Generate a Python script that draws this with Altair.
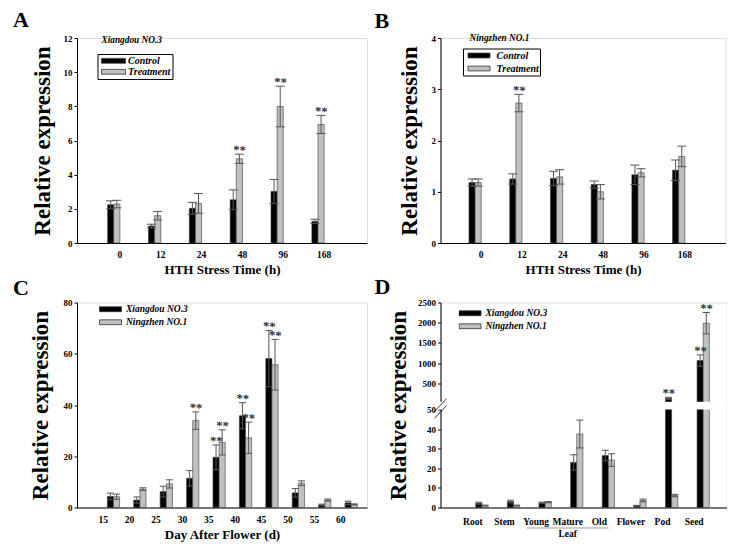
import altair as alt
import pandas as pd

FONT = "Liberation Serif"
SIG_MARK = "**"
panel_letters = ["A", "B", "C", "D"]
y_title = "Relative expression"

# ---------------- Panels A / B : HTH stress ----------------
hth_times = ["0", "12", "24", "48", "96", "168"]
stress_groups = ["Control", "Treatment"]
stress_x_title = "HTH Stress Time (h)"

a_cultivar = "Xiangdou NO.3"
a_control = [2.24, 0.99, 2.03, 2.53, 3.02, 1.27]
a_control_err = [0.23, 0.11, 0.35, 0.58, 0.70, 0.12]
a_control_sig = [0, 0, 0, 0, 0, 0]
a_treat = [2.28, 1.60, 2.32, 4.93, 7.99, 6.94]
a_treat_err = [0.22, 0.25, 0.58, 0.27, 1.19, 0.53]
a_treat_sig = [0, 0, 0, 1, 1, 1]
a_y_ticks = [0, 2, 4, 6, 8, 10, 12]

b_cultivar = "Ningzhen NO.1"
b_control = [1.18, 1.25, 1.26, 1.14, 1.33, 1.42]
b_control_err = [0.07, 0.10, 0.14, 0.07, 0.19, 0.20]
b_control_sig = [0, 0, 0, 0, 0, 0]
b_treat = [1.18, 2.73, 1.29, 1.00, 1.37, 1.69]
b_treat_err = [0.07, 0.17, 0.14, 0.14, 0.08, 0.20]
b_treat_sig = [0, 1, 0, 0, 0, 0]
b_y_ticks = [0, 1, 2, 3, 4]

# ---------------- Panel C : days after flower ----------------
cultivars = ["Xiangdou NO.3", "Ningzhen NO.1"]
days = ["15", "20", "25", "30", "35", "40", "45", "50", "55", "60"]
c_x_title = "Day After Flower (d)"
c_xd = [4.3, 2.9, 6.2, 11.4, 19.6, 35.8, 58.1, 5.7, 1.0, 1.8]
c_xd_err = [1.3, 1.2, 2.1, 3.0, 4.8, 5.1, 11.0, 1.7, 0.3, 0.65]
c_xd_sig = [0, 0, 0, 0, 1, 1, 1, 0, 0, 0]
c_nz = [4.2, 7.2, 9.2, 33.9, 25.4, 27.2, 55.7, 9.5, 2.9, 1.2]
c_nz_err = [1.0, 0.5, 1.6, 3.4, 4.9, 6.1, 9.9, 0.9, 0.4, 0.2]
c_nz_sig = [0, 0, 0, 1, 1, 1, 1, 0, 0, 0]
c_y_ticks = [0, 20, 40, 60, 80]

# ---------------- Panel D : tissues (broken axis) ----------------
tissues = ["Root", "Stem", "Young", "Mature", "Old", "Flower", "Pod", "Seed"]
leaf_first, leaf_middle, leaf_last = "Young", "Mature", "Old"
leaf_label = "Leaf"
d_xd = [2.2, 3.0, 2.4, 23.0, 26.5, 0.9, 132.0, 1065.0]
d_xd_err = [0.5, 0.7, 0.3, 3.9, 2.7, 0.2, 25.0, 140.0]
d_xd_sig = [0, 0, 0, 0, 0, 0, 1, 1]
d_nz = [1.0, 1.0, 2.7, 37.5, 24.2, 3.6, 6.1, 1988.0]
d_nz_err = [0.2, 0.2, 0.3, 7.1, 3.2, 0.7, 0.6, 265.0]
d_nz_sig = [0, 0, 0, 0, 0, 0, 0, 1]
d_y_ticks = [0, 10, 20, 30, 40, 50, 500, 1000, 1500, 2000, 2500]

# broken-axis mapping (display units)
BREAK_AT = 50
GAP_TOP = 54.0
D_TOP = 104.6
D_MAX = 2500
K = (D_TOP - GAP_TOP) / (D_MAX - BREAK_AT)


def disp_py(v):
    return v if v <= BREAK_AT else GAP_TOP + (v - BREAK_AT) * K


def disp_expr(v):
    return f"(({v}) <= {BREAK_AT} ? ({v}) : {GAP_TOP} + (({v}) - {BREAK_AT}) * {K})"


def ident_expr(v):
    return f"({v})"


BAR_COLORS = ["#000000", "#c0c0c0"]


def long_table(cats, names, means, errs, sigs):
    rows = []
    for ci, c in enumerate(cats):
        for si, s in enumerate(names):
            rows.append({"cat": c, "series": s, "mean": means[si][ci],
                         "err": errs[si][ci], "sig": sigs[si][ci]})
    return pd.DataFrame(rows)


def panel(df, cats, names, ydomain, yvalues, xtitle, letter, letter_xy,
          leg, band, cap, ytitle_pad, xlab_pad, xtitle_pad, expr=ident_expr,
          label_expr=None):
    base = alt.Chart(df).transform_calculate(
        ym=expr("datum.mean"),
        ylo=expr("datum.mean - datum.err"),
        yhi=expr("datum.mean + datum.err"),
    )
    xaxis = alt.Axis(title=xtitle, labelAngle=0, ticks=False, domainColor="black",
                     labelFont=FONT, labelFontSize=9.5, labelFontWeight="bold",
                     labelColor="black", labelPadding=xlab_pad,
                     titleFont=FONT, titleFontSize=13, titleFontWeight="bold",
                     titleColor="black", titlePadding=xtitle_pad)
    xscale = alt.Scale(domain=cats, paddingInner=band[0], paddingOuter=band[1])
    x = alt.X("cat:N", sort=cats, scale=xscale, axis=xaxis)
    xo = alt.XOffset("series:N", sort=names, scale=alt.Scale(domain=names))
    ax_kw = dict(title=y_title, values=yvalues, grid=False, domainColor="black",
                 tickColor="black", tickSize=3, labelFont=FONT, labelFontSize=9,
                 labelFontWeight="bold", labelColor="black", labelPadding=2,
                 titleFont=FONT, titleFontSize=23, titleFontWeight="bold",
                 titleColor="black", titlePadding=ytitle_pad)
    if label_expr is not None:
        ax_kw["labelExpr"] = label_expr
    yaxis = alt.Axis(**ax_kw)
    yscale = alt.Scale(domain=ydomain, nice=False, zero=True)

    def Y(field):
        return alt.Y(field, scale=yscale, axis=yaxis)

    bars = base.mark_bar(stroke="#3a3a3a", strokeWidth=0.6).encode(
        x=x, xOffset=xo, y=Y("ym:Q"),
        color=alt.Color("series:N", sort=names,
                        scale=alt.Scale(domain=names, range=BAR_COLORS),
                        legend=alt.Legend(**leg)),
    )
    errs = base.mark_rule(color="#555555", strokeWidth=1).encode(
        x=x, xOffset=xo, y=Y("ylo:Q"), y2="yhi:Q")
    cap_shape = "M-1,0H1"
    caps_hi = base.mark_point(shape=cap_shape, size=cap * cap, filled=False,
                              color="#555555", strokeWidth=1, opacity=1).encode(
        x=x, xOffset=xo, y=Y("yhi:Q"))
    caps_lo = base.mark_point(shape=cap_shape, size=cap * cap, filled=False,
                              color="#555555", strokeWidth=1, opacity=1).encode(
        x=x, xOffset=xo, y=Y("ylo:Q"))
    stars = base.transform_filter("datum.sig == 1").mark_text(
        text=SIG_MARK, font=FONT, fontSize=12.5, fontWeight="bold", fill="#333333",
        angle=3, baseline="alphabetic", dy=0).encode(
        x=x, xOffset=xo, y=Y("yhi:Q"))
    letter_mark = alt.Chart(pd.DataFrame({"t": [letter]})).mark_text(
        font=FONT, fontSize=22, fontWeight="bold", color="black",
        align="left", baseline="alphabetic").encode(
        text="t:N", x=alt.value(letter_xy[0]), y=alt.value(letter_xy[1]))
    layers = [bars, errs, caps_lo, caps_hi]
    extra = {"Y": Y, "xaxis": xaxis, "xscale": xscale}
    return layers, [stars, letter_mark], extra


def legend_title_mark(title, xy):
    return alt.Chart(pd.DataFrame({"t": [title]})).mark_text(
        font=FONT, fontSize=9.3, fontStyle="italic", fontWeight="bold",
        color="black", align="left", baseline="alphabetic").encode(
        text="t:N", x=alt.value(xy[0]), y=alt.value(xy[1]))


def boxed_legend(lx, ly, sym_w, row_h, sym_off, lab_off, pad):
    half_h = 2.4 / (sym_w / 2)
    return dict(title=None, orient="none", legendX=lx, legendY=ly, direction="vertical",
                symbolType=f"M-1,-{half_h:.3f}H1V{half_h:.3f}H-1Z", symbolSize=sym_w * sym_w,
                symbolStrokeColor="#333333", symbolStrokeWidth=0.8, symbolOffset=sym_off,
                labelFont=FONT, labelFontSize=10, labelFontStyle="italic",
                labelFontWeight="bold", labelColor="black", clipHeight=row_h,
                rowPadding=0, labelOffset=lab_off, padding=pad, strokeColor="black")


def plain_legend(lx, ly):
    return dict(title=None, orient="none", legendX=lx, legendY=ly, direction="vertical",
                symbolType="M-1,-0.22H1V0.22H-1Z", symbolSize=484,
                symbolStrokeColor="#333333", symbolStrokeWidth=0.8,
                labelFont=FONT, labelFontSize=9.5, labelFontStyle="italic",
                labelFontWeight="bold", labelColor="black", clipHeight=12.5,
                rowPadding=0, labelOffset=4, padding=0)


# ---- A ----
dfA = long_table(hth_times, stress_groups, [a_control, a_treat],
                 [a_control_err, a_treat_err], [a_control_sig, a_treat_sig])
lA, tA, _ = panel(dfA, hth_times, stress_groups, [0, 12], a_y_ticks,
                  stress_x_title, panel_letters[0], (-64, -11),
                  boxed_legend(20.5, 16, 24, 10.6, 2, 2, 1.5), (0.4, 0.75), 9, 9, 6.8, 4.5)
chartA = alt.layer(*lA, *tA, legend_title_mark(a_cultivar, (24.5, 5))).properties(
    width=290, height=205)

# ---- B ----
dfB = long_table(hth_times, stress_groups, [b_control, b_treat],
                 [b_control_err, b_treat_err], [b_control_sig, b_treat_sig])
lB, tB, _ = panel(dfB, hth_times, stress_groups, [0, 4], b_y_ticks,
                  stress_x_title, panel_letters[1], (-66, -10),
                  boxed_legend(22.5, 10.5, 22, 13, 4, 6, 0.5), (0.4, 0.7), 9, 9.5, 6.8, 4.5)
chartB = alt.layer(*lB, *tB, legend_title_mark(b_cultivar, (29, 3))).properties(
    width=285, height=205)

# ---- C ----
dfC = long_table(days, cultivars, [c_xd, c_nz], [c_xd_err, c_nz_err], [c_xd_sig, c_nz_sig])
lC, tC, _ = panel(dfC, days, cultivars, [0, 80], c_y_ticks,
                  c_x_title, panel_letters[2], (-64, -7.5),
                  plain_legend(22, 0.5), (0.39, 0.685), 7, 11, 6.5, 4.5)
chartC = alt.layer(*lC, *tC).properties(width=290, height=205)

# ---- D ----
dfD = long_table(tissues, cultivars, [d_xd, d_nz], [d_xd_err, d_nz_err], [d_xd_sig, d_nz_sig])
d_label_expr = (f"datum.value <= {BREAK_AT + 0.5} ? format(datum.value, 'd') : "
                f"format(round((datum.value - {GAP_TOP}) / {K} + {BREAK_AT}), 'd')")
d_top = disp_py(D_MAX)
lD, tD, exD = panel(dfD, tissues, cultivars, [0, d_top],
                    [disp_py(v) for v in d_y_ticks], None, panel_letters[3], (-66, -8.5),
                    plain_legend(18, 4.5), (0.41, 0.728), 7, 7.5, 9, 4,
                    expr=disp_expr, label_expr=d_label_expr)
Y = exD["Y"]
break_band = alt.Chart(pd.DataFrame({"lo": [BREAK_AT], "hi": [GAP_TOP]})).mark_rect(
    color="white").encode(x=alt.value(-3), x2=alt.value(286), y=Y("lo:Q"), y2="hi:Q")
break_slashes = alt.Chart(pd.DataFrame({"y1": [45.5, 49.0], "y2": [52.0, 55.5]})).mark_rule(
    color="black", strokeWidth=0.8).encode(
    x=alt.value(-6), x2=alt.value(6), y=Y("y1:Q"), y2="y2:Q")
leaf_df = pd.DataFrame({"first": [leaf_first], "last": [leaf_last],
                        "middle": [leaf_middle], "label": [leaf_label]})
leaf_rule = alt.Chart(leaf_df).mark_rule(color="#999999", strokeWidth=1).encode(
    x=alt.X("first:N", bandPosition=0, scale=exD["xscale"], axis=exD["xaxis"]),
    x2=alt.X2("last:N", bandPosition=1),
    y=alt.value(205 + 20.5))
leaf_text = alt.Chart(leaf_df).mark_text(
    font=FONT, fontSize=9.5, fontWeight="bold", color="black",
    baseline="alphabetic").encode(
    x=alt.X("middle:N", scale=exD["xscale"], axis=exD["xaxis"]),
    text="label:N", y=alt.value(205 + 29))
chartD = alt.layer(*lD, break_band, break_slashes, *tD, leaf_rule, leaf_text).properties(
    width=286, height=205)

chart = alt.concat(chartA, chartB, chartC, chartD, columns=2,
                   spacing={"row": -2.5, "column": 5.5}).resolve_scale(
    color="independent").resolve_legend(color="independent").properties(
    padding={"left": 4, "top": 0, "right": 0, "bottom": 0}).configure_view(
    stroke=None).configure(font=FONT)

chart.save("out.html", embed_options={"renderer": "svg", "actions": False})
